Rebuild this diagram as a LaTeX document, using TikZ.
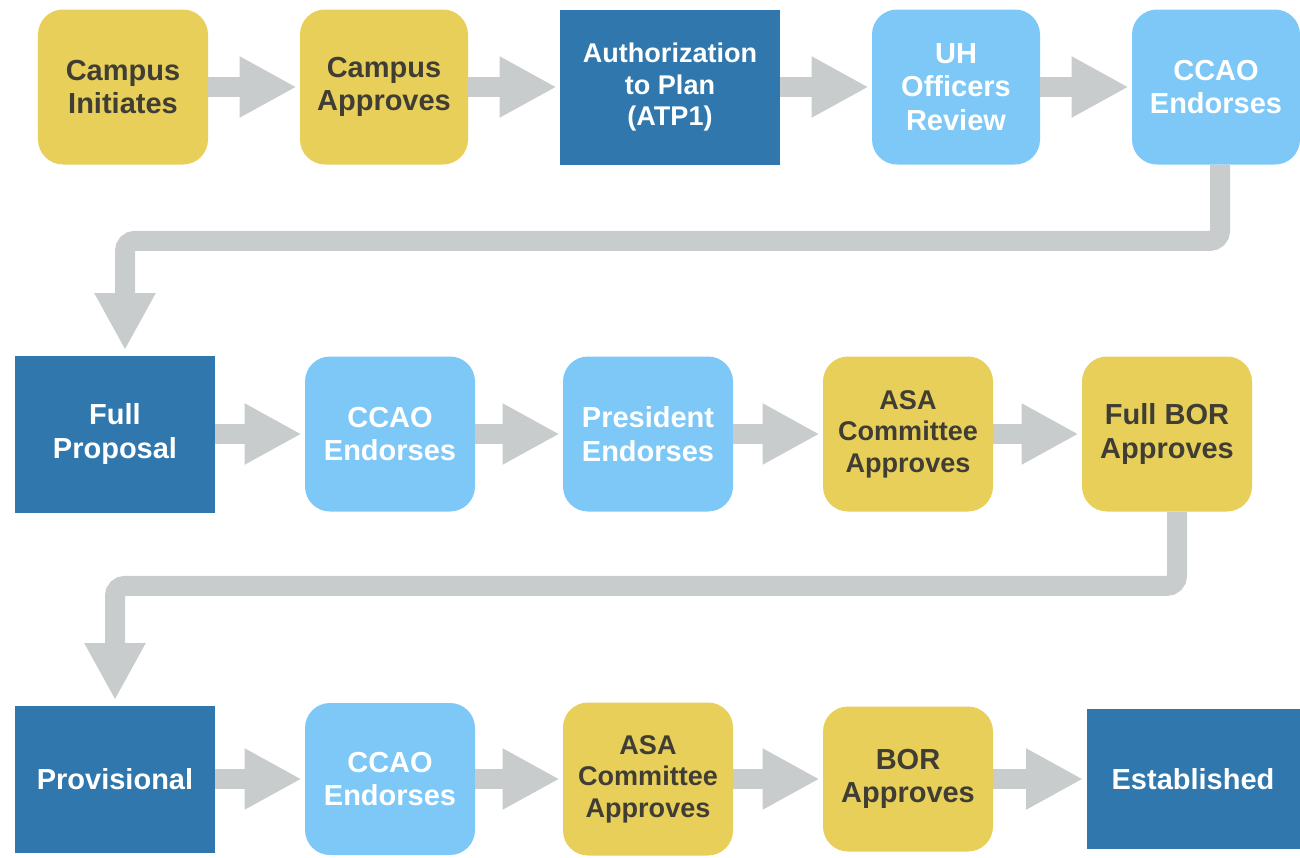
\documentclass[tikz,border=0pt]{standalone}
\usepackage{fontspec}
\setmainfont{Liberation Sans}
\usetikzlibrary{arrows.meta}

\definecolor{stepyellow}{RGB}{232,207,90}
\definecolor{stepsky}{RGB}{125,200,247}
\definecolor{stepnavy}{RGB}{47,119,172}
\definecolor{flowgray}{RGB}{201,204,205}
\definecolor{inkdark}{RGB}{64,62,52}

\begin{document}
\begin{tikzpicture}[x=0.2mm,y=-0.2mm,
    box/.style={
      shape=rectangle,
      align=center,
      minimum width=34mm,
      minimum height=31mm,
      inner sep=0pt,
      font=\bfseries\fontsize{16.5}{19}\selectfont
    },
    small/.style={font=\bfseries\fontsize{15.4}{18}\selectfont},
    campus/.style={box, fill=stepyellow, text=inkdark, rounded corners=5mm},
    office/.style={box, fill=stepsky, text=white, rounded corners=5mm},
    stage/.style={box, fill=stepnavy, text=white},
    flow/.style={
      draw=flowgray,
      line width=4mm,
      -{Triangle[length=11.4mm,width=11.4mm]},
      shorten >=0.6mm
    }
    ]
    \useasboundingbox (0,0) rectangle (1300,858);
    % planning
    \node[campus] (init) at (123,87) {Campus\\Initiates};
    \node[campus,minimum width=33.6mm] (capp) at (384,87) {Campus\\Approves};
    \node[stage,small,minimum width=44mm] (atp) at (670,87) {Authorization\\to Plan\\(ATP1)};
    \node[office,minimum width=33.6mm] (uh) at (956,87) {UH\\Officers\\Review};
    \node[office,minimum width=33.6mm] (ccaoA) at (1216,87) {CCAO\\Endorses};
    % full proposal
    \node[stage,minimum width=40mm,minimum height=31.4mm] (prop) at (115,434) {Full\\Proposal};
    \node[office] (ccaoB) at (390,434) {CCAO\\Endorses};
    \node[office] (pres) at (648,434) {President\\Endorses};
    \node[campus,small] (asaB) at (908,434) {ASA\\Committee\\Approves};
    \node[campus] (fbor) at (1167,434) {Full BOR\\Approves};
    % provisional
    \node[stage,minimum width=40mm,minimum height=29.4mm] (prov) at (115,779) {Provisional};
    \node[office,minimum height=30.4mm] (ccaoC) at (390,779) {CCAO\\Endorses};
    \node[campus,small,minimum height=30.6mm] (asaC) at (648,779) {ASA\\Committee\\Approves};
    \node[campus,minimum height=29mm] (bor) at (908,779) {BOR\\Approves};
    \node[stage,minimum width=42.6mm,minimum height=28mm] (est) at (1193,779) {Established};

    \draw[flow] (init) -- (capp);
    \draw[flow] (capp) -- (atp);
    \draw[flow] (atp) -- (uh);
    \draw[flow] (uh) -- (ccaoA);
    \draw[flow,rounded corners=2mm,shorten >=1mm] ([xshift=0.8mm]ccaoA.south) -- ++(0,76) -| ([xshift=2mm]prop.north);

    \draw[flow] (prop) -- (ccaoB);
    \draw[flow] (ccaoB) -- (pres);
    \draw[flow] (pres) -- (asaB);
    \draw[flow] (asaB) -- (fbor);
    \draw[flow,rounded corners=2mm,shorten >=1mm] ([xshift=2mm]fbor.south) -- ++(0,74) -| (prov.north);

    \draw[flow] (prov) -- (ccaoC);
    \draw[flow] (ccaoC) -- (asaC);
    \draw[flow] (asaC) -- (bor);
    \draw[flow] (bor) -- (est);
  \end{tikzpicture}
\end{document}
